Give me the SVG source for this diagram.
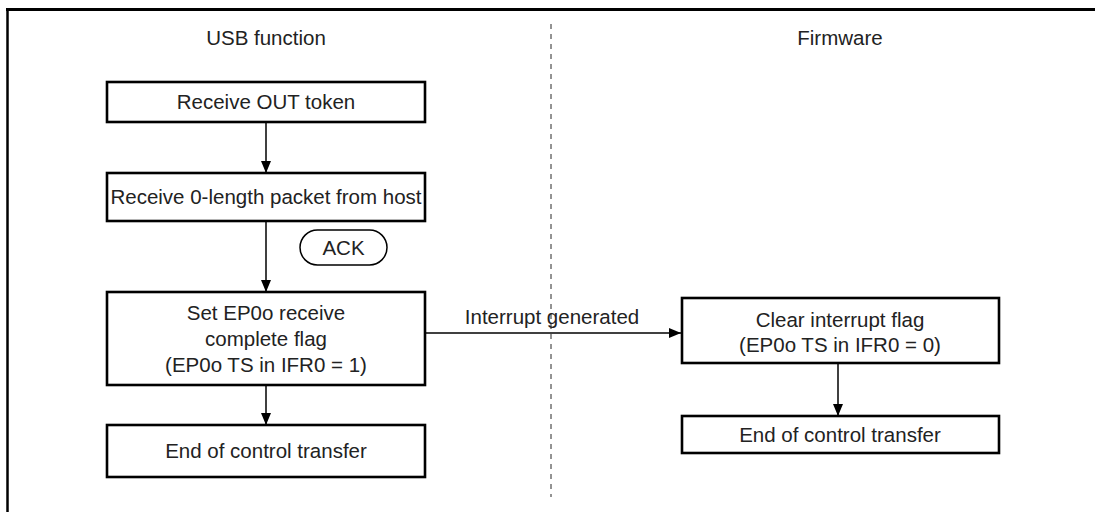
<svg xmlns="http://www.w3.org/2000/svg" width="1095" height="512" viewBox="0 0 1095 512">
<style>
.box{fill:#fff;stroke:#000;stroke-width:2.6}
.t{font-family:"Liberation Sans",Arial,sans-serif;font-size:20.5px;fill:#222;text-anchor:middle}
.c{stroke:#000;stroke-width:1.5;fill:none}
</style>
<defs>
<marker id="ah" viewBox="0 0 12 10" refX="12" refY="5" markerWidth="12" markerHeight="10" markerUnits="userSpaceOnUse" orient="auto">
<path d="M0,0 L12,5 L0,10 Z" fill="#000"/>
</marker>
</defs>
<rect width="1095" height="512" fill="#fff"/>
<g id="frame">
<line x1="7.5" y1="8" x2="7.5" y2="512" stroke="#000" stroke-width="2.5"/>
<line x1="6" y1="9.5" x2="1095" y2="9.5" stroke="#000" stroke-width="3"/>
<line x1="551" y1="24" x2="551" y2="497" stroke="#666" stroke-width="1.4" stroke-dasharray="5,5"/>
</g>
<g id="lane-usb"><text class="t" x="266" y="45">USB function</text></g>
<g id="lane-fw"><text class="t" x="840" y="45">Firmware</text></g>
<g id="connectors">
<line class="c" x1="266" y1="122" x2="266" y2="173" marker-end="url(#ah)"/>
<line class="c" x1="266" y1="221" x2="266" y2="292" marker-end="url(#ah)"/>
<line class="c" x1="266" y1="385" x2="266" y2="425" marker-end="url(#ah)"/>
<line class="c" x1="425" y1="333" x2="681" y2="333" marker-end="url(#ah)"/>
<line class="c" x1="838" y1="363" x2="838" y2="416" marker-end="url(#ah)"/>
<text class="t" x="552" y="324">Interrupt generated</text>
</g>
<g id="n1"><rect class="box" x="107" y="82" width="318" height="40"/><text class="t" x="266" y="109">Receive OUT token</text></g>
<g id="n2"><rect class="box" x="107" y="173" width="318" height="48"/><text class="t" x="266" y="204">Receive 0-length packet from host</text></g>
<g id="ack"><rect x="300" y="230" width="87" height="35" rx="17.5" ry="17.5" fill="#fff" stroke="#000" stroke-width="1.5"/><text class="t" x="343.5" y="255">ACK</text></g>
<g id="n3"><rect class="box" x="107" y="292" width="318" height="93"/><text class="t" x="266" y="320">Set EP0o receive</text><text class="t" x="266" y="346">complete flag</text><text class="t" x="266" y="372">(EP0o TS in IFR0 = 1)</text></g>
<g id="n4"><rect class="box" x="107" y="425" width="318" height="52"/><text class="t" x="266" y="458">End of control transfer</text></g>
<g id="n5"><rect class="box" x="682" y="298" width="317" height="65"/><text class="t" x="840" y="327">Clear interrupt flag</text><text class="t" x="840" y="352">(EP0o TS in IFR0 = 0)</text></g>
<g id="n6"><rect class="box" x="682" y="416" width="317" height="37"/><text class="t" x="840" y="442">End of control transfer</text></g>
</svg>
